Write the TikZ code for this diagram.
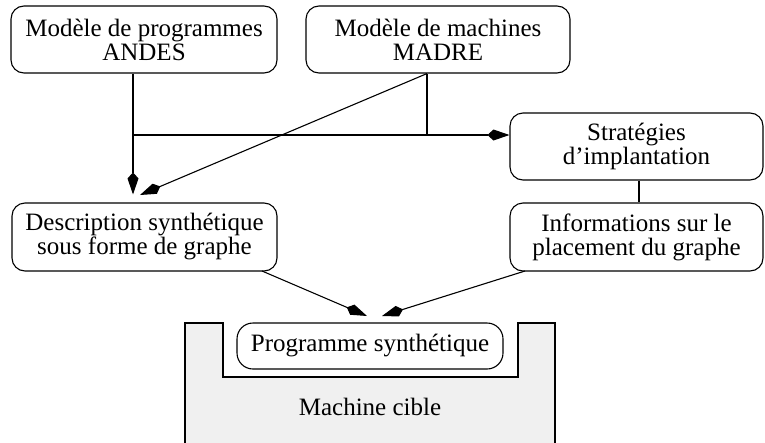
\documentclass[tikz,border=0pt]{standalone}
\usepackage{fontspec}
\setmainfont{Liberation Serif}
\usetikzlibrary{arrows.meta}
\tikzset{
  fig/.tip={Kite[length=22pt,width=11pt,inset=6pt]},
  block/.style={draw, line width=1.1pt, rounded corners=13pt, align=center,
    inner sep=0pt, font=\fontsize{25}{24}\selectfont},
  link/.style={line width=1.1pt},
  arrow/.style={link, -fig},
  label/.style={inner sep=0pt, font=\fontsize{25}{24}\selectfont}
}
\begin{document}
\begin{tikzpicture}[x=1pt, y=-1pt]
\useasboundingbox (0,0) rectangle (765,442);

% target machine with its slot
\filldraw[fill=black!6, line width=1.1pt]
  (185,452) -- (185,323) -- (223,323) -- (223,377) -- (518,377)
  -- (518,323) -- (555,323) -- (555,452);
\node[label] (cible) at (370,407) {Machine cible};

% boxes
\node[block, minimum width=266pt, minimum height=67pt] (andes) at (144,39.5)
  {Modèle de programmes\\ANDES};
\node[block, minimum width=264pt, minimum height=67pt] (madre) at (438,39.5)
  {Modèle de machines\\MADRE};
\node[block, minimum width=253pt, minimum height=67pt] (strat) at (636.5,146.5)
  {Stratégies\\d’implantation};
\node[block, minimum width=253pt, minimum height=68pt] (info) at (636.5,237)
  {Informations sur le\\placement du graphe};
\node[block, minimum width=265pt, minimum height=68pt] (desc) at (144.5,237)
  {Description synthétique\\sous forme de graphe};
\node[block, minimum width=266pt, minimum height=46pt, rounded corners=16pt] (prog) at (370,346)
  {Programme synthétique};

% junctions and arrow ends
\coordinate (j1) at (133,135);
\coordinate (j2) at (427,135);
\coordinate (j3) at (639,160);
\coordinate (dtip) at (140,195);
\coordinate (pa) at (367,316);
\coordinate (pb) at (382,316);
\coordinate (ds) at (262,271);
\coordinate (is) at (525,271);

% connectors
\draw[link] (andes.south -| j1) -- (j1);
\draw[arrow, shorten >=8pt] (j1) -- (desc.north -| j1);
\draw[arrow] (j1) -- (strat.west |- j1);
\draw[link] (madre.south -| j2) -- (j2);
\draw[arrow] (madre.south -| j2) -- (dtip);
\draw[link] (strat.south -| j3) -- (info.north -| j3);
\draw[arrow] (ds) -- (pa);
\draw[arrow] (is) -- (pb);
\end{tikzpicture}
\end{document}
